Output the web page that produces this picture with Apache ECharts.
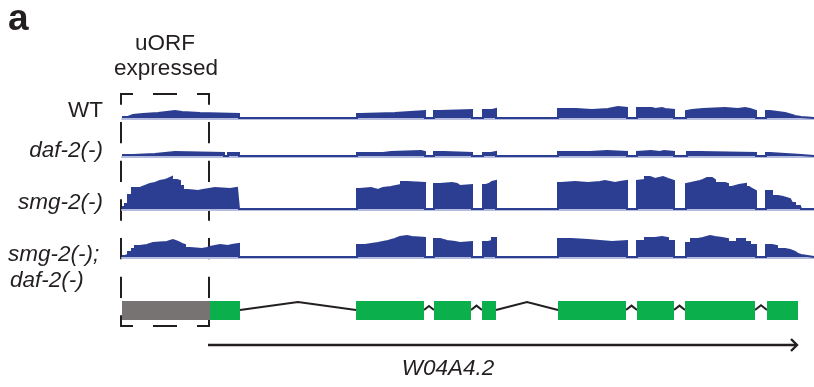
<!DOCTYPE html>
<html>
<head>
<meta charset="utf-8">
<script src="https://cdn.jsdelivr.net/npm/echarts@6/dist/echarts.min.js"></script>
<style>
  html, body { margin: 0; padding: 0; background: #fff; }
  #chart { width: 814px; height: 387px; }
</style>
</head>
<body>
<div id="chart"></div>
<script>
// Locus coordinates, in relative units along the W04A4.2 region
const locusLength = 692;
const uorf = [0, 88];
const exons = [[88, 118], [234, 302], [312, 349], [360, 374], [436, 504], [515, 552], [563, 633], [645, 676]];
const geneSpan = [86, 675];
const geneName = 'W04A4.2';

const trackNames = ['WT', 'daf-2(-)', 'smg-2(-)', 'smg-2(-);', 'daf-2(-)'];

// Read coverage, as [position, depth] steps (depth holds until the next step)
const covWT = [[0,1],[6,3],[11,4],[21,5],[36,7],[53,6],[60,5],[78,4],[117,0],
  [235,4],[238,5],[273,7],[303,0],[312,7],[318,8],[350,0],[361,8],[370,9],[374,0],
  [436,9],[454,8],[470,9],[486,10],[491,11],[496,10],[505,0],
  [515,10],[530,9],[533,10],[540,9],[543,8],[552,0],
  [564,7],[566,8],[570,9],[581,10],[603,9],[616,10],[623,9],[628,7],[634,0],
  [644,7],[648,5],[663,3],[670,2],[673,1],[679,0],[692,0]];

const covDaf2 = [[0,1],[11,2],[33,4],[53,3],[102,0],[106,3],[117,0],
  [235,3],[250,2],[251,3],[261,4],[269,5],[299,4],[303,0],
  [312,4],[322,3],[350,0],[361,3],[369,4],[374,0],
  [436,4],[468,5],[485,4],[505,0],
  [515,4],[517,5],[529,4],[538,5],[542,4],[552,0],
  [565,4],[578,3],[634,0],[644,3],[648,1],[679,0],[692,0]];

const covSmg2 = [[0,2],[3,5],[6,14],[10,21],[18,23],[23,25],[28,26],[33,28],[38,29],[43,30],[46,32],
  [50,29],[55,28],[58,23],[61,19],[66,18],[76,19],[81,21],[93,21],[95,20],[108,21],[115,20],[117,0],
  [235,20],[238,21],[249,19],[256,21],[261,22],[269,24],[279,27],[285,26],[303,0],
  [312,25],[318,26],[330,25],[335,23],[338,24],[350,0],
  [361,24],[364,25],[367,27],[370,28],[374,0],
  [436,26],[439,27],[453,26],[466,27],[478,28],[483,27],[485,26],[493,27],[498,28],[505,0],
  [515,28],[517,29],[523,32],[528,30],[533,32],[541,30],[546,28],[552,0],
  [564,25],[566,26],[569,28],[578,29],[581,31],[585,29],[586,31],[590,29],[593,26],[603,25],
  [606,22],[610,24],[617,25],[624,22],[627,20],[630,18],[634,0],
  [644,18],[650,13],[656,12],[661,11],[663,10],[668,8],[670,6],[673,3],[678,2],[679,0],[692,0]];

const covSmg2Daf2 = [[0,1],[3,2],[6,5],[10,8],[13,11],[18,12],[25,14],[31,15],[45,16],[48,17],[51,15],
  [56,13],[60,12],[63,9],[68,8],[80,9],[85,10],[88,12],[98,11],[106,12],[110,13],[117,0],
  [235,12],[243,14],[256,15],[261,16],[266,18],[273,20],[278,21],[285,20],[290,19],[303,0],
  [312,18],[318,16],[325,15],[333,14],[338,15],[350,0],
  [361,15],[366,16],[370,19],[374,0],
  [436,18],[449,17],[466,15],[490,16],[505,0],
  [515,16],[523,19],[533,20],[540,19],[546,16],[552,0],
  [564,14],[569,18],[576,19],[581,21],[588,20],[593,19],[600,18],[606,15],[615,18],[623,15],[628,12],[634,0],
  [644,12],[650,11],[655,8],[663,7],[668,5],[673,3],[676,2],[679,0],[692,0]];

const tracks = [covWT, covDaf2, covSmg2, covSmg2Daf2];

// Each depth holds until the next step: emit both corners at every step position
function stepPath(steps) {
  const out = [];
  steps.forEach((p, i) => {
    if (i > 0) out.push([p[0], steps[i - 1][1]]);
    out.push([p[0], p[1]]);
  });
  return out;
}

// Layout
const PLOT_LEFT = 122;
const TRACK_BASELINES = [118, 156, 209, 257];
const TRACK_H = 34;
const DEPTH_MAX = 34;
const GENE_TOP = 295, GENE_H = 55;
const COV_COLOR = '#2c3e91';
const HALO_COLOR = '#b6bcdd';
const INK = '#231f20';
const FONT = "'Liberation Sans', Arial, Helvetica, sans-serif";

const grids = [], xAxes = [], yAxes = [], series = [];

tracks.forEach((data, i) => {
  grids.push({ left: PLOT_LEFT, right: 0, top: TRACK_BASELINES[i] - TRACK_H, height: TRACK_H });
  xAxes.push({
    type: 'value', gridIndex: i, min: 0, max: locusLength, offset: 1,
    axisLine: { show: true, onZero: false, lineStyle: { color: HALO_COLOR, width: 2 } },
    axisTick: { show: false }, axisLabel: { show: false }, splitLine: { show: false }
  });
  yAxes.push({ type: 'value', gridIndex: i, min: 0, max: DEPTH_MAX, show: false, splitLine: { show: false } });
  series.push({
    type: 'line', xAxisIndex: i, yAxisIndex: i, data: stepPath(data),
    symbol: 'none', clip: false, silent: true,
    lineStyle: { color: COV_COLOR, width: 2, join: 'miter' },
    areaStyle: { color: COV_COLOR, opacity: 1 }
  });
});

// Gene model grid
const G = tracks.length;
grids.push({ left: PLOT_LEFT, right: 0, top: GENE_TOP, height: GENE_H });
xAxes.push({ type: 'value', gridIndex: G, min: 0, max: locusLength, show: false });
yAxes.push({ type: 'value', gridIndex: G, min: 0, max: 1, show: false });

const EXON_TOP = 6, EXON_H = 19, INTRON_Y = 15, ARROW_Y = 50;

const exonRows = [[uorf[0], uorf[1], 0]].concat(exons.map(e => [e[0], e[1], 1]));
const intronRows = [];
for (let k = 0; k < exons.length - 1; k++) intronRows.push([exons[k][1], exons[k + 1][0]]);

// introns as chevrons
series.push({
  type: 'custom', xAxisIndex: G, yAxisIndex: G, data: intronRows, silent: true, clip: false,
  renderItem(params, api) {
    const a = api.value(0), b = api.value(1);
    const x0 = api.coord([a, 0])[0], x1 = api.coord([b, 0])[0], xm = api.coord([(a + b) / 2, 0])[0];
    const y = params.coordSys.y + INTRON_Y;
    const peak = Math.min(8, (x1 - x0) * 0.4);
    return { type: 'polyline', shape: { points: [[x0, y], [xm, y - peak], [x1, y]] },
      style: { stroke: INK, lineWidth: 2, fill: null } };
  }
});
// exons (uORF in grey, coding exons in green)
series.push({
  type: 'custom', xAxisIndex: G, yAxisIndex: G, data: exonRows, silent: true, clip: false,
  renderItem(params, api) {
    const x0 = api.coord([api.value(0), 0])[0], x1 = api.coord([api.value(1), 0])[0];
    return { type: 'rect', shape: { x: x0, y: params.coordSys.y + EXON_TOP, width: x1 - x0, height: EXON_H },
      style: { fill: api.value(2) ? '#0bb04c' : '#777372' } };
  }
});
// transcript direction arrow
series.push({
  type: 'custom', xAxisIndex: G, yAxisIndex: G, data: [geneSpan], silent: true, clip: false,
  renderItem(params, api) {
    const x0 = api.coord([api.value(0), 0])[0], x1 = api.coord([api.value(1), 0])[0];
    const y = params.coordSys.y + ARROW_Y;
    return { type: 'group', children: [
      { type: 'line', shape: { x1: x0, y1: y, x2: x1, y2: y }, style: { stroke: INK, lineWidth: 2.4 } },
      { type: 'polyline', shape: { points: [[x1 - 6, y - 6], [x1, y], [x1 - 6, y + 6]] },
        style: { stroke: INK, lineWidth: 2.4, fill: null } }
    ] };
  }
});

function label(text, x, y, opts) {
  return {
    type: 'text', x: x, y: y, silent: true,
    style: Object.assign({ text: text, fill: INK, font: '22.5px ' + FONT, align: 'right', verticalAlign: 'middle' }, opts || {})
  };
}

const chart = echarts.init(document.getElementById('chart'), null, { renderer: 'canvas' });
chart.setOption({
  animation: false,
  backgroundColor: '#fff',
  grid: grids, xAxis: xAxes, yAxis: yAxes, series: series
});

// Dashed box around the uORF, with dashes aligned to the corners
const bx0 = chart.convertToPixel({ xAxisIndex: G }, uorf[0]) - 1;
const bx1 = chart.convertToPixel({ xAxisIndex: G }, uorf[1]) - 1;
const by0 = 94, by1 = 326;
function dashedSide(x1, y1, x2, y2) {
  const L = Math.hypot(x2 - x1, y2 - y1);
  const n = Math.max(1, Math.round(L / 40));
  const d = L / (2 * n);
  return { type: 'line', silent: true, shape: { x1, y1, x2, y2 },
    style: { stroke: INK, lineWidth: 2, lineDash: [d, d], lineDashOffset: d / 2, lineCap: 'square' } };
}

const italic = { font: 'italic 22.5px ' + FONT };
chart.setOption({
  graphic: [
    label('a', 8, 20, { font: 'bold 37px ' + FONT, align: 'left' }),
    label('uORF', 165, 44, { align: 'center' }),
    label('expressed', 166, 69, { align: 'center' }),
    label(trackNames[0], 103, 111),
    label(trackNames[1], 103, 151, italic),
    label(trackNames[2], 103, 203, italic),
    label(trackNames[3], 8, 255, Object.assign({ align: 'left' }, italic)),
    label(trackNames[4], 10, 281, Object.assign({ align: 'left' }, italic)),
    label(geneName, 448, 369, Object.assign({ align: 'center' }, italic)),
    dashedSide(bx0, by0, bx1, by0),
    dashedSide(bx1, by0, bx1, by1),
    dashedSide(bx1, by1, bx0, by1),
    dashedSide(bx0, by1, bx0, by0)
  ]
});
</script>
</body>
</html>
